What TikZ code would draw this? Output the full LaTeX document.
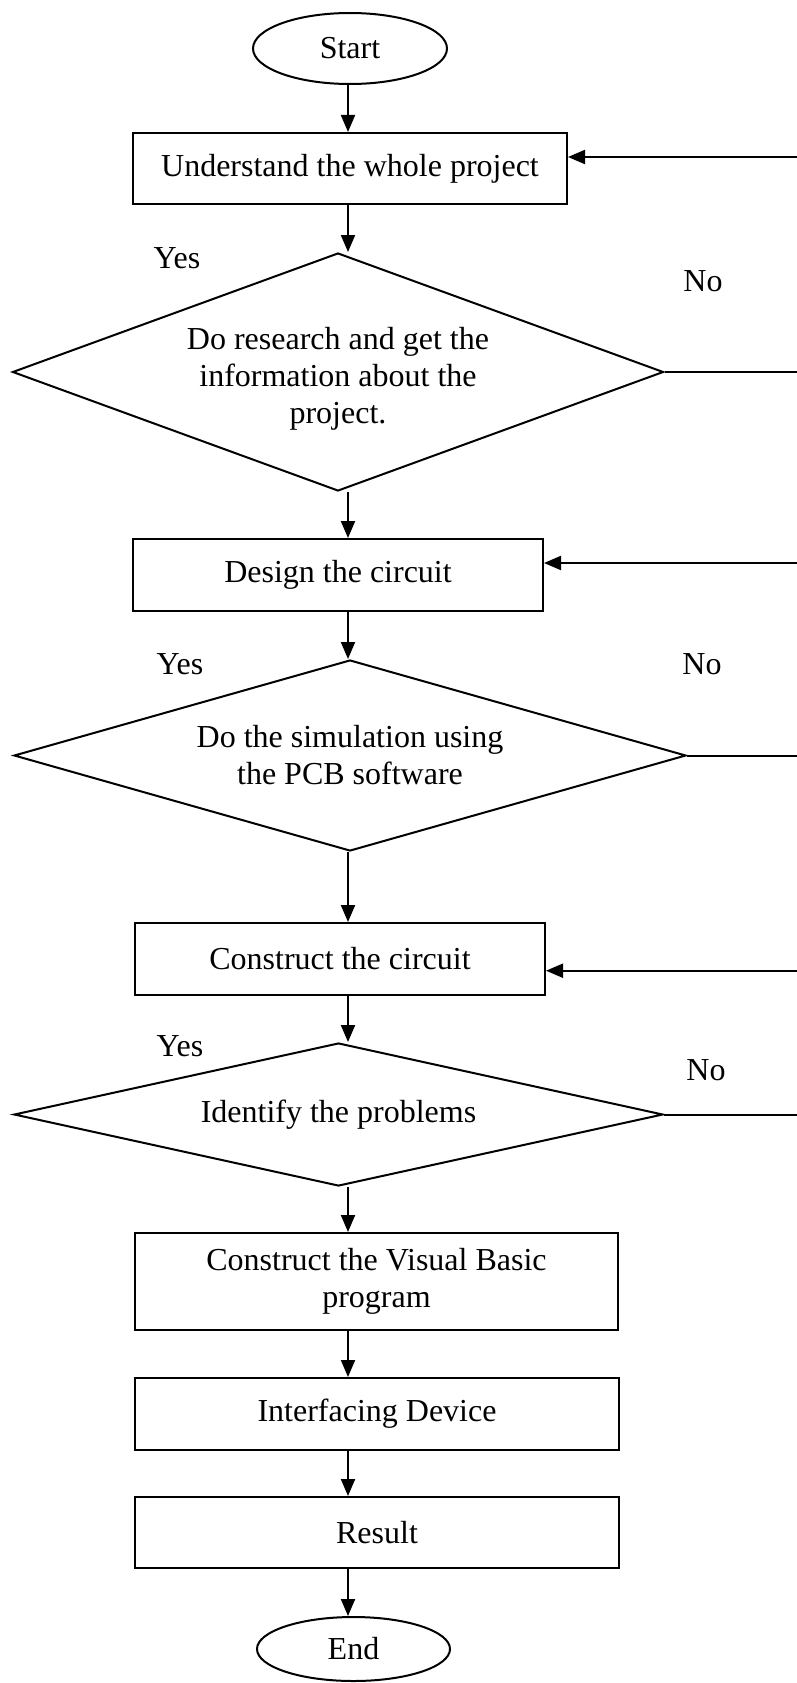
\documentclass[tikz,border=0pt]{standalone}
\usepackage{fontspec}
\setmainfont{Liberation Serif}
\usetikzlibrary{shapes.geometric,arrows.meta}
\begin{document}
\begin{tikzpicture}[x=1pt,y=-1pt,
  every node/.style={font=\fontsize{32}{37}\selectfont, inner sep=0pt},
  box/.style={draw, line width=2pt, rectangle, align=center},
  term/.style={draw, ellipse, line width=2pt},
  dec/.style={draw, diamond, line width=2pt, align=center},
  lbl/.style={anchor=base},
  arr/.style={line width=2pt, -{Triangle[length=17pt,width=14pt]}},
  ln/.style={line width=2pt}]
\fill[white] (0,0) rectangle (797,1683);
\useasboundingbox (0,0) rectangle (797,1683);

\node[term, minimum width=194pt, minimum height=71pt] (start) at (350,48.5) {Start};
\node[box, minimum width=434pt, minimum height=71pt] (b1) at (350,168.5) {Understand the whole project};
\node[dec, aspect=2.73, minimum width=651pt, minimum height=238pt] (d1) at (338,372) {\rule{0pt}{36pt}Do research and get the\\information about the\\project.};
\node[box, minimum width=410pt, minimum height=72pt] (b2) at (338,575) {Design the circuit};
\node[dec, aspect=3.52, minimum width=672pt, minimum height=191pt] (d2) at (350,755.5) {Do the simulation using\\the PCB software};
\node[box, minimum width=410pt, minimum height=72pt] (b3) at (340,959) {Construct the circuit};
\node[dec, aspect=4.54, minimum width=649pt, minimum height=143pt] (d3) at (338.5,1114.5) {Identify the problems};
\node[box, minimum width=483pt, minimum height=97pt] (b4) at (376.5,1281.5) {Construct the Visual Basic\\program};
\node[box, minimum width=484pt, minimum height=72pt] (b5) at (377,1414) {Interfacing Device};
\node[box, minimum width=484pt, minimum height=71pt] (b6) at (377,1532.5) {Result};
\node[term, minimum width=193pt, minimum height=64pt] (end) at (353.5,1649) {End};

\node[lbl] (y1) at (177,268) {Yes};
\node[lbl] (n1) at (703,291.7) {No};
\node[lbl] (y2) at (180,674) {Yes};
\node[lbl] (n2) at (702,674) {No};
\node[lbl] (y3) at (180,1056.7) {Yes};
\node[lbl] (n3) at (706,1080) {No};

\coordinate (ax) at (348,0);
\coordinate (redge) at (797,0);

\draw[arr] (ax |- start.south) -- (ax |- b1.north);
\draw[arr] (ax |- b1.south) -- (ax |- d1.north);
\draw[arr] (ax |- d1.south) -- (ax |- b2.north);
\draw[arr] (ax |- b2.south) -- (ax |- d2.north);
\draw[arr] (ax |- d2.south) -- (ax |- b3.north);
\draw[arr] (ax |- b3.south) -- (ax |- d3.north);
\draw[arr] (ax |- d3.south) -- (ax |- b4.north);
\draw[arr] (ax |- b4.south) -- (ax |- b5.north);
\draw[arr] (ax |- b5.south) -- (ax |- b6.north);
\draw[arr] (ax |- b6.south) -- (ax |- end.north);

\coordinate (r1) at (797,157);
\coordinate (r2) at (797,563);
\coordinate (r3) at (797,970.7);
\draw[ln] (d1.east) -- (d1.east -| redge);
\draw[arr] (r1) -- (r1 -| b1.east);
\draw[ln] (d2.east) -- (d2.east -| redge);
\draw[arr] (r2) -- (r2 -| b2.east);
\draw[ln] (d3.east) -- (d3.east -| redge);
\draw[arr] (r3) -- (r3 -| b3.east);
\end{tikzpicture}
\end{document}
